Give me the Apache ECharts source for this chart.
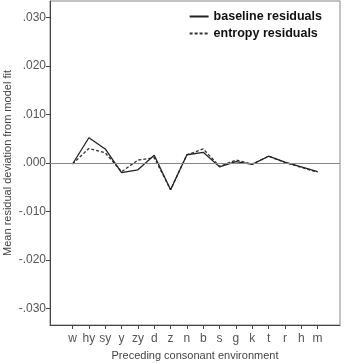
<!DOCTYPE html>
<html>
<head>
<meta charset="utf-8">
<script src="https://cdn.jsdelivr.net/npm/echarts@6/dist/echarts.min.js"></script>
<style>
  html, body { margin: 0; padding: 0; background: #fff; }
  #charts { width: 344px; height: 363px; }
</style>
</head>
<body>
<div id="charts"></div>
<script>
var categories = ['w', 'hy', 'sy', 'y', 'zy', 'd', 'z', 'n', 'b', 's', 'g', 'k', 't', 'r', 'h', 'm'];
var baseline = [-0.0002, 0.0052, 0.0029, -0.0020, -0.0014, 0.0016, -0.0055, 0.0017, 0.0022, -0.0008, 0.0003, -0.0003, 0.0014, 0.0002, -0.0008, -0.0018];
var entropy = [-0.0002, 0.0030, 0.0021, -0.0018, 0.0006, 0.0011, -0.0055, 0.0017, 0.0029, -0.0007, 0.0006, -0.0002, 0.0014, 0.0001, -0.0009, -0.0019];
var yTicks = [-0.03, -0.02, -0.01, 0, 0.01, 0.02, 0.03];

function pts(arr) {
  return arr.map(function (v, i) { return [i, v]; });
}
var idx = categories.map(function (c, i) { return i; });

var myChart = echarts.init(document.getElementById('charts'));
var font = 'Liberation Sans, Arial, sans-serif';

var option = {
  animation: false,
  grid: { left: 50, right: 4, top: 1, bottom: 38, show: true, borderColor: '#888', borderWidth: 1,
    outerBoundsMode: 'none', containLabel: false },
  legend: {
    orient: 'vertical', right: 17, top: 5, itemGap: 4, itemWidth: 19, itemHeight: 10,
    itemStyle: { opacity: 0 },
    textStyle: { fontFamily: font, fontSize: 12.5, fontWeight: 'bold', color: '#111' },
    data: ['baseline residuals', 'entropy residuals']
  },
  xAxis: {
    type: 'value', min: -1.38, max: 16.37,
    name: 'Preceding consonant environment', nameLocation: 'middle', nameGap: 25, nameMoveOverlap: false,
    nameTextStyle: { fontFamily: font, fontSize: 11, color: '#444' },
    axisLine: { show: true, onZero: false, lineStyle: { color: '#444' } },
    axisTick: { show: true, length: 4, customValues: idx, lineStyle: { color: '#444' } },
    axisLabel: { customValues: idx, fontFamily: font, fontSize: 12, color: '#555', margin: 8,
      formatter: function (v) { return categories[Math.round(v)]; } },
    splitLine: { show: false }
  },
  yAxis: {
    type: 'value', min: -0.0334, max: 0.0334,
    name: 'Mean residual deviation from model fit', nameLocation: 'middle', nameGap: 37, nameMoveOverlap: false,
    nameTextStyle: { fontFamily: font, fontSize: 11, color: '#444' },
    axisLine: { show: true, onZero: false, lineStyle: { color: '#444' } },
    axisTick: { show: true, length: 4, customValues: yTicks, lineStyle: { color: '#444' } },
    axisLabel: { customValues: yTicks, fontFamily: font, fontSize: 12, color: '#555', margin: 4,
      formatter: function (v) {
        var s = Math.abs(v).toFixed(3).replace(/^0/, '');
        return (v < -1e-9 ? '-' : '') + s;
      } },
    splitLine: { show: false }
  },
  series: [
    {
      name: 'baseline residuals', type: 'line', data: pts(baseline),
      symbol: 'none', lineStyle: { color: '#222', width: 1.3, type: 'solid' }, itemStyle: { color: '#222' },
      markLine: {
        silent: true, symbol: 'none', label: { show: false },
        lineStyle: { color: '#888', width: 1, type: 'solid' },
        data: [{ yAxis: 0 }]
      },
      z: 3
    },
    {
      name: 'entropy residuals', type: 'line', data: pts(entropy),
      symbol: 'none', lineStyle: { color: '#333', width: 1.3, type: [3, 2] }, itemStyle: { color: '#333' },
      z: 2
    }
  ]
};
myChart.setOption(option);
</script>
</body>
</html>
